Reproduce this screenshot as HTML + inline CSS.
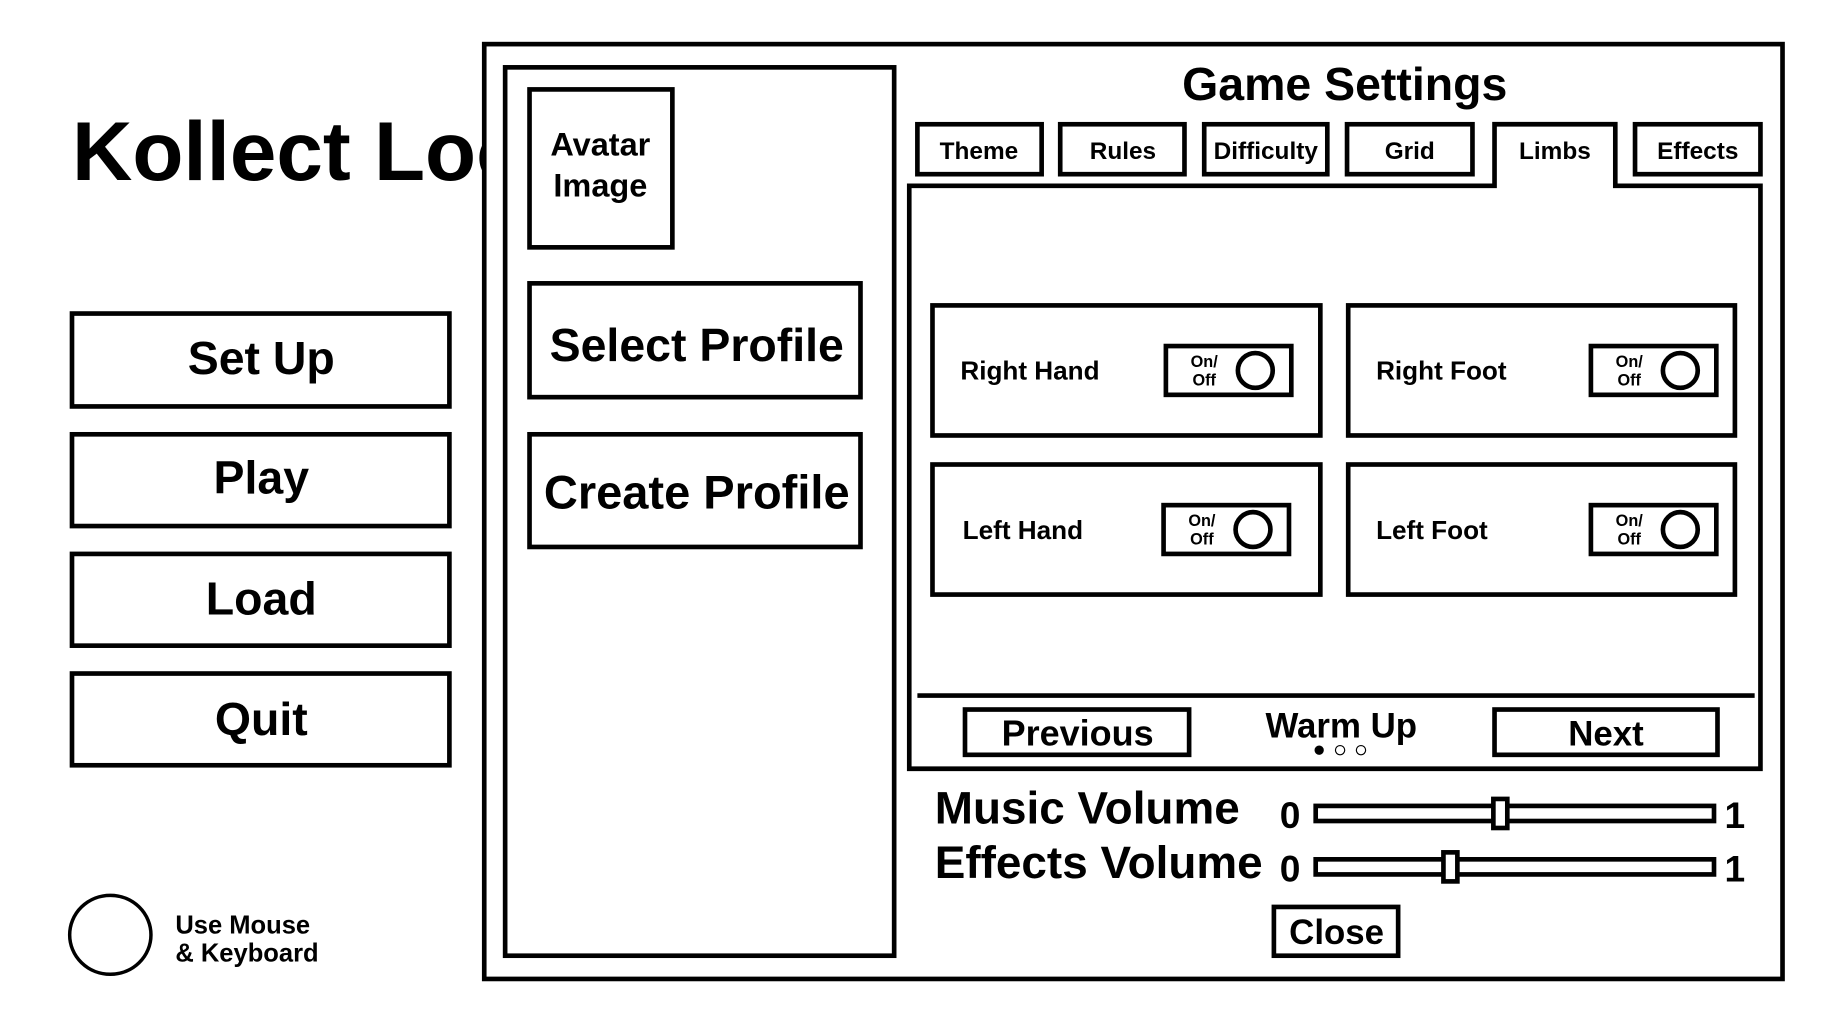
<!DOCTYPE html>
<html><head><meta charset="utf-8"><style>
html,body{margin:0;padding:0;background:#fff;width:1822px;height:1024px;overflow:hidden}
svg{display:block}
text{font-family:"Liberation Sans",sans-serif;font-weight:bold;fill:#000}
</style></head><body>
<svg width="1822" height="1024" viewBox="0 0 1569 881.8" preserveAspectRatio="none" xmlns="http://www.w3.org/2000/svg">
<text x="62" y="155" font-size="72">Kollect Loot</text>
<rect x="417" y="0" width="1152" height="882" fill="#fff"/>
<g fill="none" stroke="#000" stroke-width="4">
<rect x="62" y="270" width="325" height="80"/>
<rect x="62" y="374" width="325" height="79"/>
<rect x="62" y="477" width="325" height="79"/>
<rect x="62" y="580" width="325" height="79"/>
<ellipse cx="95" cy="805" rx="35" ry="34" stroke-width="3"/>
<rect x="417" y="38" width="1118" height="805"/>
<rect x="435" y="58" width="335" height="765"/>
<rect x="456" y="77" width="123" height="136"/>
<rect x="456" y="244" width="285" height="98"/>
<rect x="456" y="374" width="285" height="97"/>
<rect x="790" y="107" width="107" height="43"/>
<rect x="913" y="107" width="107" height="43"/>
<rect x="1037" y="107" width="106" height="43"/>
<rect x="1160" y="107" width="108" height="43"/>
<rect x="1408" y="107" width="108" height="43"/>
<path d="M1287 160 V107 H1391 V160 H1516 V662 H783 V160 Z" fill="#fff"/>
<rect x="803" y="263" width="334" height="112"/>
<rect x="1161" y="263" width="333" height="112"/>
<rect x="803" y="400" width="334" height="112"/>
<rect x="1161" y="400" width="333" height="112"/>
<rect x="1004" y="298" width="108" height="42"/>
<rect x="1370" y="298" width="108" height="42"/>
<rect x="1002" y="435" width="108" height="42"/>
<rect x="1370" y="435" width="108" height="42"/>
<circle cx="1081" cy="319" r="15"/>
<circle cx="1447" cy="319" r="15"/>
<circle cx="1079" cy="456" r="15"/>
<circle cx="1447" cy="456" r="15"/>
<line x1="790" y1="599" x2="1511" y2="599"/>
<rect x="831" y="611" width="193" height="39"/>
<rect x="1287" y="611" width="192" height="39"/>
<rect x="1133" y="694" width="343" height="13"/>
<rect x="1133" y="740" width="343" height="13"/>
<rect x="1286" y="688" width="12" height="25" fill="#fff"/>
<rect x="1243" y="734" width="12" height="25" fill="#fff"/>
<rect x="1097" y="781" width="107" height="42"/>
</g>
<circle cx="1136" cy="646" r="4"/>
<circle cx="1154" cy="646" r="4" fill="none" stroke="#000" stroke-width="1"/>
<circle cx="1172" cy="646" r="4" fill="none" stroke="#000" stroke-width="1"/>
<g text-anchor="middle">
<text x="225" y="322" font-size="40">Set Up</text>
<text x="225" y="425" font-size="40">Play</text>
<text x="225" y="529" font-size="40">Load</text>
<text x="225" y="633" font-size="40">Quit</text>
<text x="517" y="134" font-size="28">Avatar</text>
<text x="517" y="169" font-size="28">Image</text>
<text x="600" y="311" font-size="40">Select Profile</text>
<text x="600" y="438" font-size="40.5">Create Profile</text>
<text x="1158" y="86" font-size="40">Game Settings</text>
<text x="843" y="137" font-size="21">Theme</text>
<text x="967" y="137" font-size="21">Rules</text>
<text x="1090" y="137" font-size="21">Difficulty</text>
<text x="1214" y="137" font-size="21">Grid</text>
<text x="1339" y="137" font-size="21">Limbs</text>
<text x="1462" y="137" font-size="21">Effects</text>
<text x="1037" y="316" font-size="14">On/</text><text x="1037" y="332" font-size="14">Off</text>
<text x="1403" y="316" font-size="14">On/</text><text x="1403" y="332" font-size="14">Off</text>
<text x="1035" y="453" font-size="14">On/</text><text x="1035" y="469" font-size="14">Off</text>
<text x="1403" y="453" font-size="14">On/</text><text x="1403" y="469" font-size="14">Off</text>
<text x="928" y="642" font-size="31">Previous</text>
<text x="1383" y="642" font-size="30">Next</text>
<text x="1155" y="635" font-size="30">Warm Up</text>
<text x="1151" y="813" font-size="30">Close</text>
</g>
<text x="151" y="804" font-size="22">Use Mouse</text>
<text x="151" y="828" font-size="22">&amp; Keyboard</text>
<text x="827" y="327" font-size="22.5">Right Hand</text>
<text x="1185" y="327" font-size="22.5">Right Foot</text>
<text x="829" y="464" font-size="22.5">Left Hand</text>
<text x="1185" y="464" font-size="22.5">Left Foot</text>
<text x="805" y="709" font-size="39.5">Music Volume</text>
<text x="805" y="756" font-size="39.5">Effects Volume</text>
<text x="1102" y="713" font-size="32">0</text>
<text x="1102" y="759" font-size="32">0</text>
<text x="1485" y="713" font-size="32">1</text>
<text x="1485" y="759" font-size="32">1</text>
</svg>
</body></html>
